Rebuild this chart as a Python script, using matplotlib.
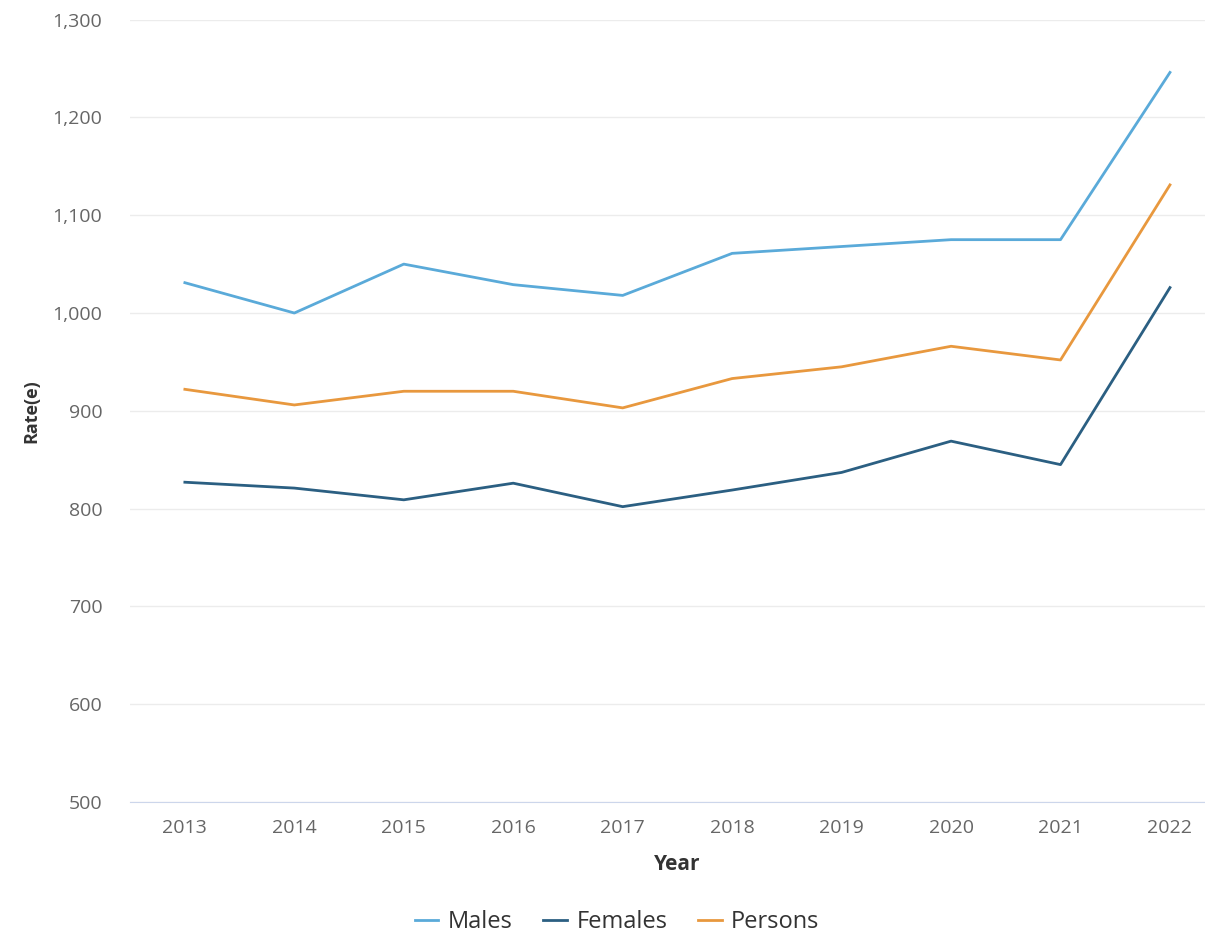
import matplotlib
matplotlib.use("Agg")
import matplotlib.pyplot as plt
from matplotlib.ticker import FuncFormatter

plt.rcParams['font.family'] = ['Open Sans', 'DejaVu Sans']

years = ["2013", "2014", "2015", "2016", "2017", "2018", "2019", "2020", "2021", "2022"]
males = [1031, 1000, 1050, 1029, 1018, 1061, 1068, 1075, 1075, 1246]
females = [827, 821, 809, 826, 802, 819, 837, 869, 845, 1026]
persons = [922, 906, 920, 920, 903, 933, 945, 966, 952, 1131]

fig = plt.figure(figsize=(12.05, 9.34), dpi=100)
ax = fig.add_axes([0.108, 0.1413, 0.892, 0.8377])

x = range(len(years))
ax.plot(x, males, color="#5aaad9", lw=2, label="Males")
ax.plot(x, females, color="#2b5f82", lw=2, label="Females")
ax.plot(x, persons, color="#e8983e", lw=2, label="Persons")

ax.set_xlim(-0.5, len(years) - 0.68)
ax.set_ylim(500, 1300)
ax.set_yticks(range(500, 1301, 100))
ax.yaxis.set_major_formatter(FuncFormatter(lambda v, p: f"{int(v):,}"))
ax.set_xticks(list(x))
ax.set_xticklabels(years)

ax.grid(axis="y", color="#ececec", lw=1)
ax.set_axisbelow(True)
for s in ["top", "right", "left"]:
    ax.spines[s].set_visible(False)
ax.spines["bottom"].set_color("#ccd6eb")
ax.tick_params(axis="both", length=0, labelsize=14, colors="#666666")
ax.tick_params(axis="y", pad=20)
ax.tick_params(axis="x", pad=12)

ax.set_xlabel("Year", fontsize=15, fontweight="bold", color="#333333", labelpad=10)
ax.xaxis.set_label_coords(0.509, -0.067)
ax.set_ylabel("Rate(e)", fontsize=13, fontweight="bold", color="#333333", labelpad=9)

ax.legend(loc="center", bbox_to_anchor=(0.453, -0.1535), ncol=3, frameon=False,
          fontsize=17, handlelength=1.0, handletextpad=0.4, columnspacing=1.3,
          labelcolor="#333333")

fig.savefig("out.png", dpi=100)
